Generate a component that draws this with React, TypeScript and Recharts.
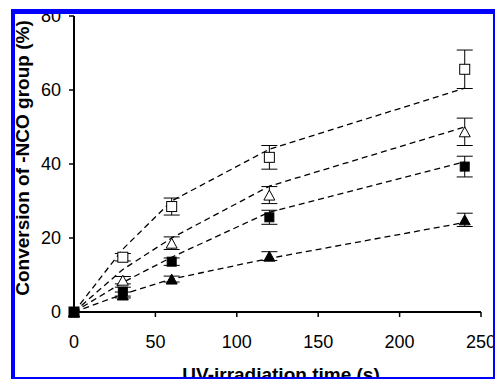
import React from 'react';
import { ComposedChart, Line, XAxis, YAxis, ErrorBar } from 'recharts';

// irradiation times (s)
const times = [0, 30, 60, 120, 240];

// measured conversion (%) and error
const openSquare = [0, 14.8, 28.5, 41.8, 65.6];
const openSquareErr = [0, 1, 2.3, 3.2, 5.2];
const openTriangle = [0, 8.6, 18.6, 31.6, 48.7];
const openTriangleErr = [0, 1, 1.7, 2.3, 3.7];
const filledSquare = [0, 5.5, 13.6, 25.6, 39.3];
const filledSquareErr = [0, 1.2, 1, 1.9, 2.8];
const filledTriangle = [0, 4.6, 8.9, 15.1, 24.9];
const filledTriangleErr = [0, 0.8, 0.8, 1.2, 1.8];

// fitted curves (dashed)
const fitOpenSquare = [0, 17, 30, 44, 60.5];
const fitOpenTriangle = [0, 11.5, 20, 34, 50];
const fitFilledSquare = [0, 8, 14.8, 27, 40.6];
const fitFilledTriangle = [0, 4.8, 8.9, 14.5, 24.2];

const xTicks = [0, 50, 100, 150, 200, 250];
const yTicks = [0, 20, 40, 60, 80];

const data = times.map((t, i) => ({
  t,
  os: openSquare[i],
  osErr: openSquareErr[i],
  ot: openTriangle[i],
  otErr: openTriangleErr[i],
  fs: filledSquare[i],
  fsErr: filledSquareErr[i],
  ft: filledTriangle[i],
  ftErr: filledTriangleErr[i],
  fitOs: fitOpenSquare[i],
  fitOt: fitOpenTriangle[i],
  fitFs: fitFilledSquare[i],
  fitFt: fitFilledTriangle[i],
}));

const FONT = '"Liberation Sans", Arial, sans-serif';

const square = (filled: boolean) => (props: any) => {
  const { cx, cy, key } = props;
  if (cx == null || cy == null) return <g key={key} />;
  const s = filled ? 9 : 10;
  return (
    <rect
      key={key}
      x={cx - s / 2}
      y={cy - s / 2}
      width={s}
      height={s}
      fill={filled ? '#000' : '#fff'}
      stroke="#000"
      strokeWidth={1}
    />
  );
};

const triangle = (filled: boolean) => (props: any) => {
  const { cx, cy, key } = props;
  if (cx == null || cy == null) return <g key={key} />;
  const w = 11;
  const h = 10;
  const pts = `${cx},${cy - h / 2} ${cx + w / 2},${cy + h / 2} ${cx - w / 2},${cy + h / 2}`;
  return <polygon key={key} points={pts} fill={filled ? '#000' : '#fff'} stroke="#000" strokeWidth={1} />;
};

const fitLine = (key: string) => (
  <Line
    key={key}
    dataKey={key}
    type="linear"
    stroke="#000"
    strokeWidth={1.3}
    strokeDasharray="6 4"
    dot={false}
    activeDot={false}
    isAnimationActive={false}
    legendType="none"
  />
);

const App: React.FC = () => {
  return (
    <div
      style={{
        position: 'fixed',
        left: 0,
        top: 0,
        width: 495,
        height: 379,
        overflow: 'hidden',
        background: '#fff',
      }}
    >
      <ComposedChart width={495} height={379} data={data} margin={{ top: 16, right: 14, bottom: 0, left: 0 }}>
        <XAxis
          dataKey="t"
          type="number"
          domain={[0, 250]}
          ticks={xTicks}
          height={67}
          axisLine={{ stroke: '#000', strokeWidth: 2 }}
          tickLine={{ stroke: '#000', strokeWidth: 1.5 }}
          tickSize={5}
          tickMargin={18}
          tick={{ fill: '#000', fontSize: 18, fontFamily: FONT }}
          label={{
            content: () => (
              <text x={281} y={381} textAnchor="middle" fontFamily={FONT} fontWeight="bold" fontSize={19} fill="#000">
                UV-irradiation time (s)
              </text>
            ),
          }}
        />
        <YAxis
          type="number"
          domain={[0, 80]}
          ticks={yTicks}
          width={74}
          axisLine={{ stroke: '#000', strokeWidth: 2 }}
          tickLine={{ stroke: '#000', strokeWidth: 1.5 }}
          tickSize={5}
          tickMargin={8}
          tick={{ fill: '#000', fontSize: 18, fontFamily: FONT }}
          label={{
            content: () => (
              <text
                x={-158}
                y={29}
                transform="rotate(-90)"
                textAnchor="middle"
                fontFamily={FONT}
                fontWeight="bold"
                fontSize={19}
                fill="#000"
              >
                Conversion of -NCO group (%)
              </text>
            ),
          }}
        />
        {fitLine('fitOs')}
        {fitLine('fitOt')}
        {fitLine('fitFs')}
        {fitLine('fitFt')}
        <Line dataKey="ft" stroke="none" strokeWidth={0} dot={triangle(true)} activeDot={false} isAnimationActive={false} legendType="none">
          <ErrorBar dataKey="ftErr" width={8} stroke="#000" strokeWidth={1} />
        </Line>
        <Line dataKey="ot" stroke="none" strokeWidth={0} dot={triangle(false)} activeDot={false} isAnimationActive={false} legendType="none">
          <ErrorBar dataKey="otErr" width={8} stroke="#000" strokeWidth={1} />
        </Line>
        <Line dataKey="os" stroke="none" strokeWidth={0} dot={square(false)} activeDot={false} isAnimationActive={false} legendType="none">
          <ErrorBar dataKey="osErr" width={8} stroke="#000" strokeWidth={1} />
        </Line>
        <Line dataKey="fs" stroke="none" strokeWidth={0} dot={square(true)} activeDot={false} isAnimationActive={false} legendType="none">
          <ErrorBar dataKey="fsErr" width={8} stroke="#000" strokeWidth={1} />
        </Line>
      </ComposedChart>
      <div
        style={{
          position: 'absolute',
          left: 11,
          top: 9,
          width: 486,
          height: 372,
          boxSizing: 'border-box',
          borderStyle: 'solid',
          borderColor: '#0000ff',
          borderWidth: '5px 4px 4px 4px',
          pointerEvents: 'none',
        }}
      />
    </div>
  );
};

export default App;
